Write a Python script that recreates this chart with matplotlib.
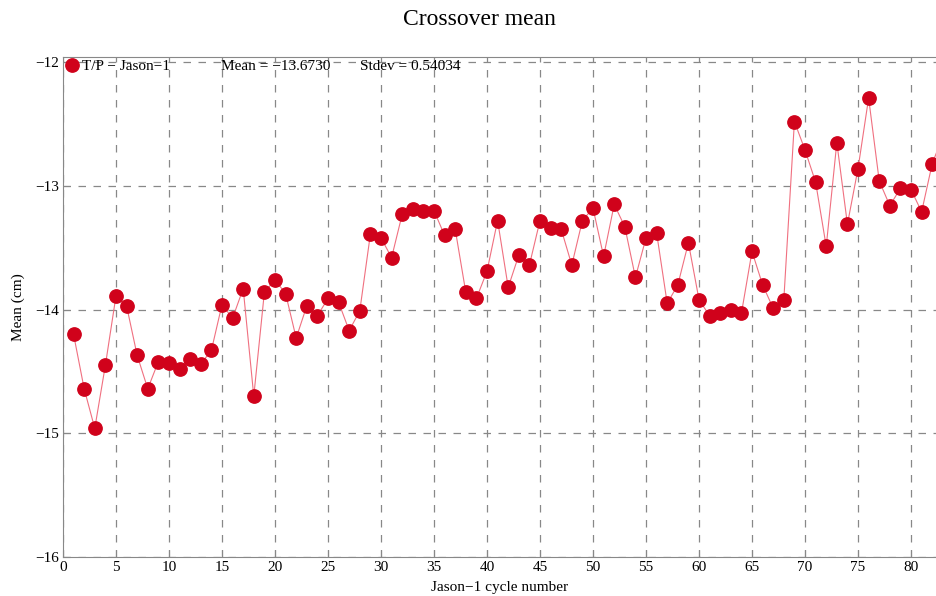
"""
Crossover mean per Jason-1 cycle (T/P - Jason-1)
"""
import numpy as np
import matplotlib.pyplot as plt

#------------------------------------------------------------------------------
# Data
#------------------------------------------------------------------------------

cycles = np.arange(1, 84)
mean_cm = [-14.20, -14.64, -14.96, -14.45, -13.89, -13.97, -14.37, -14.64, -14.42, -14.43,
           -14.48, -14.40, -14.44, -14.33, -13.96, -14.07, -13.83, -14.70, -13.86, -13.76,
           -13.87, -14.23, -13.97, -14.05, -13.91, -13.94, -14.17, -14.01, -13.39, -13.42,
           -13.58, -13.23, -13.19, -13.20, -13.20, -13.40, -13.35, -13.86, -13.91, -13.69,
           -13.28, -13.82, -13.56, -13.64, -13.28, -13.34, -13.35, -13.64, -13.28, -13.18,
           -13.57, -13.15, -13.33, -13.74, -13.42, -13.38, -13.95, -13.80, -13.46, -13.92,
           -14.05, -14.03, -14.00, -14.03, -13.53, -13.80, -13.99, -13.92, -12.48, -12.71,
           -12.97, -13.49, -12.65, -13.31, -12.86, -12.29, -12.96, -13.16, -13.02, -13.03,
           -13.21, -12.82, -12.60]
series_label = "T/P \u2212 Jason\u22121"
mean_text = "Mean = \u221213.6730"
stdev_text = "Stdev = 0.54034"

#------------------------------------------------------------------------------
# Plot
#------------------------------------------------------------------------------

plt.rcParams['font.family'] = ['Liberation Serif', 'DejaVu Serif']
plt.rcParams['axes.unicode_minus'] = True

fig = plt.figure(figsize=(9.37, 5.96), dpi=100)
ax = fig.add_axes([0.0672, 0.0654, 0.9328, 0.8386])

ax.plot(cycles, mean_cm, color='#f07080', lw=0.8, zorder=2)
ax.plot(cycles, mean_cm, ls='none', marker='o', ms=9.6, color='#d0021b',
        mec='#d0021b', label=series_label, zorder=3)

ax.set_xlim(0, 82.45)
ax.set_ylim(-16, -11.96)
ax.set_xticks(np.arange(0, 81, 5))
ax.set_yticks([-16, -15, -14, -13, -12])

ax.grid(True, ls=(0, (6, 6)), color='#888888', lw=0.9)
ax.tick_params(direction='in', length=5, labelsize=11, color='#888888',
               top=False, right=False, pad=3)
for s in ax.spines.values():
    s.set_color('#888888')
ax.spines['right'].set_visible(False)

ax.set_title("Crossover mean", fontsize=17, pad=23, x=0.477)
ax.set_xlabel("Jason\u22121 cycle number", fontsize=11, labelpad=5)
ax.set_ylabel("Mean (cm)", fontsize=11, labelpad=7)

ax.legend(loc='center left', frameon=False, fontsize=11, handletextpad=0.1,
          handlelength=1.2, borderaxespad=0.0, borderpad=0.0,
          bbox_to_anchor=(-0.0005, 0.982))
ax.text(0.1808, 0.982, mean_text, transform=ax.transAxes, fontsize=11, va='center')
ax.text(0.3398, 0.982, stdev_text, transform=ax.transAxes, fontsize=11, va='center')

fig.savefig('out.png', dpi=100)
